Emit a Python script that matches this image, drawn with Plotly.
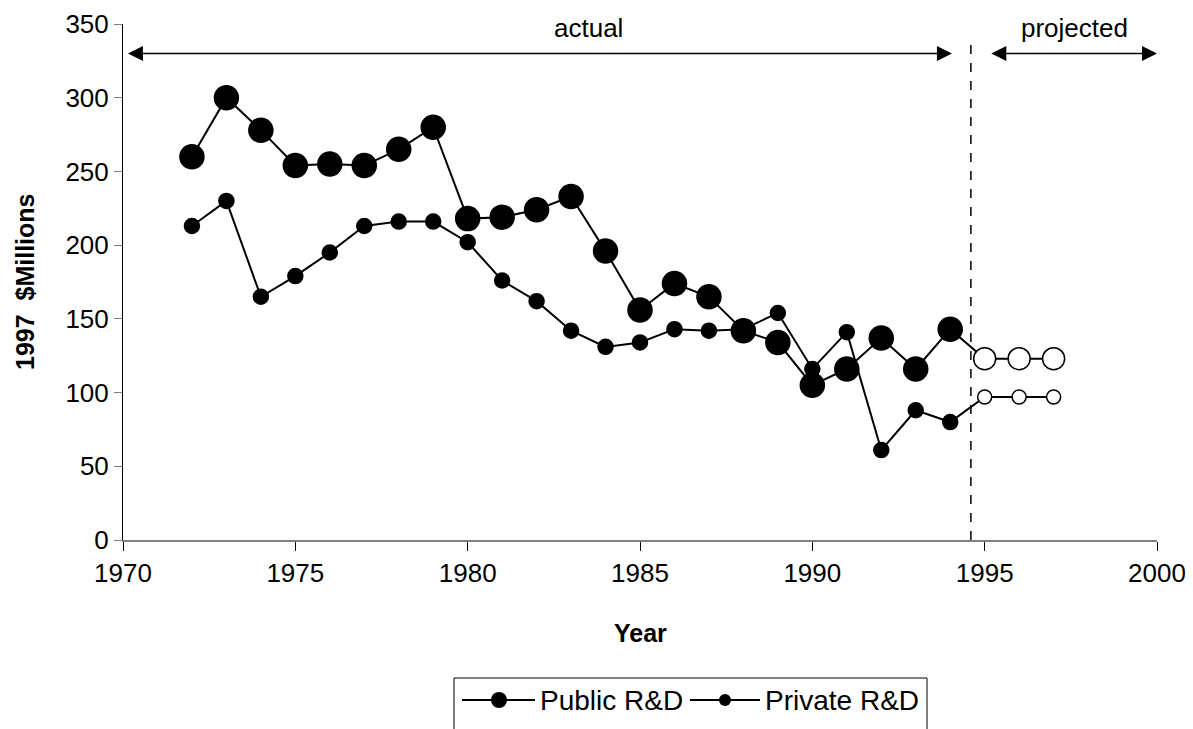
import plotly.graph_objects as go

years_actual = list(range(1972, 1995))
years_proj = [1995, 1996, 1997]

public_actual = [260, 300, 278, 254, 255, 254, 265, 280, 218, 219, 224, 233, 196,
                 156, 174, 165, 142, 134, 105, 116, 137, 116, 143]
public_proj = [123, 123, 123]
private_actual = [213, 230, 165, 179, 195, 213, 216, 216, 202, 176, 162, 142, 131,
                  134, 143, 142, 143, 154, 116, 141, 61, 88, 80]
private_proj = [97, 97, 97]

x_ticks = [1970, 1975, 1980, 1985, 1990, 1995, 2000]
y_ticks = [0, 50, 100, 150, 200, 250, 300, 350]
series_names = ["Public R&D", "Private R&D"]

FONT = "Liberation Sans, Arial, sans-serif"

# page is offset by the 8px body margin; plot area in page pixels: x 123..1157, y 24..540
W, H = 1185, 721
ML, MR, MT, MB = 115, 36, 16, 189
PL, PR, PT, PB = 123, 1157, 24, 540


def px2x(px):
    return (px - PL) / (PR - PL)


def py2y(py):
    return (PB - py) / (PB - PT)


def series(actual, proj, size_a, size_p):
    xs = years_actual + years_proj
    ys = actual + proj
    colors = ["black"] * len(actual) + ["white"] * len(proj)
    sizes = [size_a] * len(actual) + [size_p] * len(proj)
    return xs, ys, colors, sizes


fig = go.Figure()

for name, act, prj, sa, sp in [(series_names[0], public_actual, public_proj, 24, 22),
                                (series_names[1], private_actual, private_proj, 15, 14)]:
    xs, ys, cols, szs = series(act, prj, sa, sp)
    fig.add_trace(go.Scatter(
        x=xs, y=ys, mode="lines+markers", showlegend=False, name=name,
        line=dict(color="black", width=2),
        marker=dict(color=cols, size=szs, opacity=1, line=dict(color="black", width=1.5)),
    ))

# dashed divider
fig.add_shape(type="line", xref="x", yref="y", x0=1994.6, x1=1994.6, y0=0, y1=336,
              line=dict(color="black", width=1.5, dash="dash"))

# arrows
for x0, x1 in [(1970.1, 1994.05), (1995.15, 2000.0)]:
    fig.add_annotation(x=x1, y=330, ax=x0, ay=330, xref="x", yref="y", axref="x", ayref="y",
                       text="", showarrow=True, arrowside="end+start",
                       arrowhead=2, startarrowhead=2, arrowsize=2, startarrowsize=2,
                       arrowwidth=1.5, arrowcolor="black")

fig.add_annotation(x=1983.5, y=347, xref="x", yref="y", text="actual", showarrow=False,
                   font=dict(family=FONT, size=26, color="black"))
fig.add_annotation(x=1997.6, y=347, xref="x", yref="y", text="projected", showarrow=False,
                   font=dict(family=FONT, size=26, color="black"))

# axis titles
fig.add_annotation(x=px2x(25), y=0.5, xref="paper", yref="paper", text="<b>1997  $Millions</b>",
                   textangle=-90, showarrow=False, xanchor="center", yanchor="middle",
                   font=dict(family=FONT, size=25, color="black"))
fig.add_annotation(x=0.5, y=py2y(633), xref="paper", yref="paper", text="<b>Year</b>",
                   showarrow=False, xanchor="center", yanchor="middle",
                   font=dict(family=FONT, size=25, color="black"))

# legend (drawn manually to match the wide symbol style)
fig.add_shape(type="rect", xref="paper", yref="paper", x0=px2x(454), x1=px2x(927),
              y0=py2y(678), y1=py2y(760), line=dict(color="black", width=1), layer="above")
ly = py2y(700)
for (lx0, lx1, mx, msz, tx), name in zip([(462, 535, 499, 16, 538), (690, 760, 725, 12, 763)],
                                         series_names):
    fig.add_shape(type="line", xref="paper", yref="paper", x0=px2x(lx0), x1=px2x(lx1),
                  y0=ly, y1=ly, line=dict(color="black", width=2))
    fig.add_shape(type="circle", xref="paper", yref="paper", xsizemode="pixel",
                  ysizemode="pixel", xanchor=px2x(mx), yanchor=ly,
                  x0=-msz / 2, x1=msz / 2, y0=-msz / 2, y1=msz / 2,
                  fillcolor="black", line=dict(color="black", width=0))
    fig.add_annotation(x=px2x(tx), y=ly, xref="paper", yref="paper", text=name,
                       showarrow=False, xanchor="left", yanchor="middle",
                       font=dict(family=FONT, size=28, color="black"))

fig.update_layout(
    width=W, height=H,
    margin=dict(l=ML, r=MR, t=MT, b=MB),
    plot_bgcolor="white", paper_bgcolor="white",
    showlegend=False,
    font=dict(family=FONT, size=26, color="black"),
    xaxis=dict(range=[1970, 2000], tickvals=x_ticks, ticktext=[str(v) for v in x_ticks],
               showgrid=False, zeroline=False, showline=True, linecolor="#808080", linewidth=1.5,
               ticks="outside", ticklen=9, tickcolor="black", tickwidth=1, automargin=False),
    yaxis=dict(range=[0, 350], tickvals=y_ticks, showgrid=False, zeroline=False,
               showline=True, linecolor="black", linewidth=1, automargin=False,
               ticks="outside", ticklen=8, tickcolor="#808080", tickwidth=1),
)

fig.write_html("out.html")
